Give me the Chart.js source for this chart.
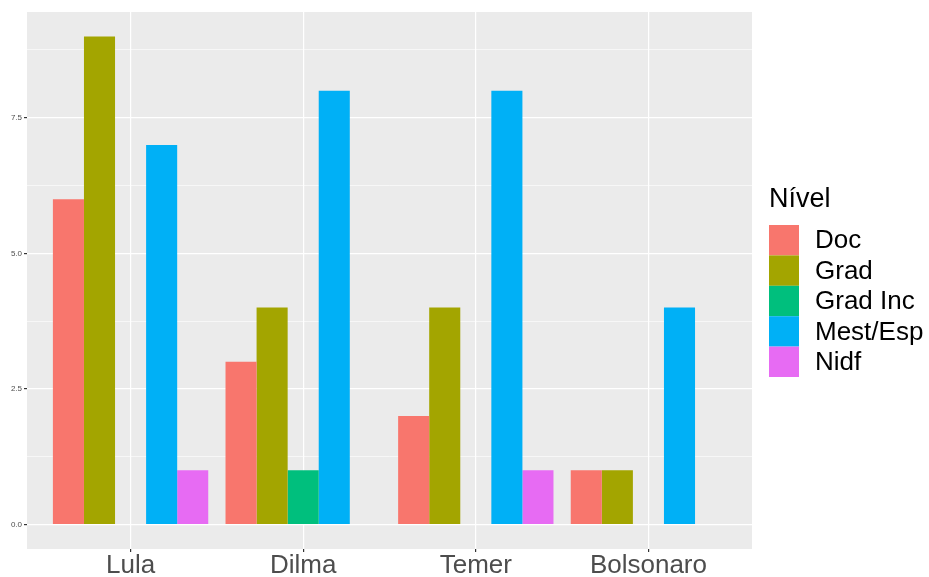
<!DOCTYPE html>
<html>
<head>
<meta charset="utf-8">
<script src="https://cdn.jsdelivr.net/npm/chart.js@4.4.0/dist/chart.umd.min.js"></script>
<style>
  html, body { margin: 0; padding: 0; background: #fff; }
  #wrap { width: 929px; height: 577px; }
</style>
</head>
<body>
<div id="wrap"><canvas id="nivelChart"></canvas></div>
<script>
  // -----data
  const categories = ['Lula', 'Dilma', 'Temer', 'Bolsonaro'];
  const doc     = [6, 3, 2, 1];
  const grad    = [9, 4, 4, 1];
  const gradInc = [null, 1, null, null];
  const mestEsp = [7, 8, 8, 4];
  const nidf    = [1, null, 1, null];

  const yMajor = [0, 2.5, 5, 7.5];
  const yTickLabels = ['0.0', '2.5', '5.0', '7.5'];
  const yMinor = [1.25, 3.75, 6.25, 8.75];

  Chart.defaults.font.family = '"Liberation Sans", Arial, sans-serif';

  function toPoints(arr) {
    return arr.map((v, i) => ({ x: i + 1, y: v }));
  }

  function series(label, values, color) {
    return {
      label: label,
      data: toPoints(values),
      backgroundColor: color,
      borderWidth: 0,
      categoryPercentage: 0.9,
      barPercentage: 1.0
    };
  }

  // gray panel behind the bars
  const panelBg = {
    id: 'panelBg',
    beforeDraw(chart) {
      const a = chart.chartArea;
      const c = chart.ctx;
      c.save();
      c.fillStyle = '#EBEBEB';
      c.fillRect(a.left, a.top, a.right - a.left, a.bottom - a.top);
      c.restore();
    }
  };

  // ggplot-like legend on the right
  const ggLegend = {
    id: 'ggLegend',
    afterDraw(chart) {
      const c = chart.ctx;
      const x = 769, top = 225, h = 30.4;
      c.save();
      c.fillStyle = '#000';
      c.font = '27px "Liberation Sans", Arial, sans-serif';
      c.textBaseline = 'alphabetic';
      c.fillText('Nível', x, 207);
      c.font = '26px "Liberation Sans", Arial, sans-serif';
      c.textBaseline = 'middle';
      chart.data.datasets.forEach((ds, i) => {
        const y = top + i * h;
        c.fillStyle = ds.backgroundColor;
        c.fillRect(x, y, 30, h);
        c.fillStyle = '#000';
        c.fillText(ds.label, 815, y + h / 2 + 1);
      });
      c.restore();
    }
  };

  var ctx = document.getElementById('nivelChart');

  new Chart(ctx, {
    type: 'bar',
    data: {
      datasets: [
        series('Doc', doc, '#F8766D'),
        series('Grad', grad, '#A3A500'),
        series('Grad Inc', gradInc, '#00BF7D'),
        series('Mest/Esp', mestEsp, '#00B0F6'),
        series('Nidf', nidf, '#E76BF3')
      ]
    },
    options: {
      responsive: true,
      maintainAspectRatio: false,
      animation: false,
      layout: { padding: { top: 12, right: 177, left: 0, bottom: 0 } },
      plugins: {
        legend: { display: false },
        tooltip: { enabled: false }
      },
      scales: {
        x: {
          type: 'linear',
          min: 0.4,
          max: 4.6,
          offset: false,
          afterBuildTicks: s => { s.ticks = categories.map((c, i) => ({ value: i + 1 })); },
          afterFit: s => { s.height = 28; },
          border: { display: false },
          grid: { offset: false, color: '#FFFFFF', lineWidth: 1.2, tickColor: '#333333', tickLength: 3 },
          ticks: {
            autoSkip: false,
            maxRotation: 0,
            padding: -2,
            color: '#4D4D4D',
            font: { size: 26 },
            callback: v => categories[v - 1]
          }
        },
        y: {
          min: -0.45,
          max: 9.45,
          afterBuildTicks: s => {
            s.ticks = yMajor.concat(yMinor).sort((a, b) => a - b).map(v => ({ value: v }));
          },
          afterFit: s => { s.width = 27; },
          border: { display: false },
          grid: {
            color: '#FFFFFF',
            lineWidth: c => yMajor.includes(c.tick.value) ? 1.2 : 0.6,
            tickColor: c => yMajor.includes(c.tick.value) ? '#333333' : 'rgba(0,0,0,0)',
            tickLength: 3
          },
          ticks: {
            padding: 2,
            color: '#4D4D4D',
            font: { size: 8 },
            callback: v => {
              const i = yMajor.indexOf(v);
              return i >= 0 ? yTickLabels[i] : '';
            }
          }
        }
      }
    },
    plugins: [panelBg, ggLegend]
  });
</script>
</body>
</html>
